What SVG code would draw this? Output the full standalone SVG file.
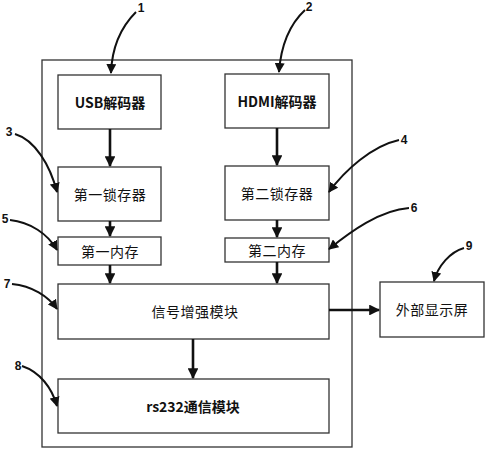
<svg xmlns="http://www.w3.org/2000/svg" width="487" height="450" viewBox="0 0 487 450">
<style>
.box{fill:#fff;stroke:#333;stroke-width:1.3}
.t{font-family:"Noto Sans CJK SC","Noto Sans",sans-serif;font-size:14px;fill:#111;text-anchor:middle;dominant-baseline:central;letter-spacing:0.5px}
.b{font-weight:bold;letter-spacing:0}
.n{font-family:"Liberation Sans",sans-serif;font-size:12px;font-weight:bold;fill:#111;text-anchor:middle;dominant-baseline:central}
.c{fill:none;stroke:#111;stroke-width:2.6}
.l{fill:none;stroke:#111;stroke-width:2}
</style>
<defs>
<marker id="ah" viewBox="0 0 10 10" refX="9" refY="5" markerWidth="4.2" markerHeight="4.2" orient="auto" markerUnits="strokeWidth">
<path d="M0,0 L10,5 L0,10 z" fill="#111"/>
</marker>
<marker id="al" viewBox="0 0 10 10" refX="9" refY="5" markerWidth="5" markerHeight="5" orient="auto" markerUnits="strokeWidth">
<path d="M0,0 L10,5 L0,10 z" fill="#111"/>
</marker>
</defs>
<rect width="487" height="450" fill="#fff"/>
<rect id="container" x="42" y="60" width="310" height="387" fill="none" stroke="#333" stroke-width="1.3"/>
<g id="usb"><rect class="box" x="58" y="75" width="103" height="54"/><text class="t b" x="110" y="102">USB解码器</text></g>
<g id="hdmi"><rect class="box" x="225" y="74" width="104" height="54"/><text class="t b" x="277" y="101">HDMI解码器</text></g>
<g id="latch1"><rect class="box" x="58" y="167" width="103" height="54"/><text class="t" x="110" y="194">第一锁存器</text></g>
<g id="latch2"><rect class="box" x="225" y="166" width="104" height="54"/><text class="t" x="277" y="193">第二锁存器</text></g>
<g id="mem1"><rect class="box" x="58" y="237" width="103" height="28"/><text class="t" x="110" y="251">第一内存</text></g>
<g id="mem2"><rect class="box" x="225" y="238" width="104" height="24"/><text class="t" x="277" y="250">第二内存</text></g>
<g id="enhance"><rect class="box" x="58" y="284" width="271" height="55"/><text class="t" x="195" y="311">信号增强模块</text></g>
<g id="rs232"><rect class="box" x="58" y="379" width="271" height="54"/><text class="t b" x="193" y="406">rs232通信模块</text></g>
<g id="display"><rect class="box" x="380" y="282" width="104" height="55"/><text class="t" x="432" y="309">外部显示屏</text></g>
<g id="connectors">
<line class="c" x1="110" y1="129" x2="110" y2="166" marker-end="url(#ah)"/>
<line class="c" x1="277" y1="128" x2="277" y2="165" marker-end="url(#ah)"/>
<line class="c" x1="110" y1="221" x2="110" y2="236" marker-end="url(#ah)"/>
<line class="c" x1="277" y1="220" x2="277" y2="237" marker-end="url(#ah)"/>
<line class="c" x1="110" y1="265" x2="110" y2="283" marker-end="url(#ah)"/>
<line class="c" x1="277" y1="262" x2="277" y2="283" marker-end="url(#ah)"/>
<line class="c" x1="193" y1="339" x2="193" y2="378" marker-end="url(#ah)"/>
<line class="c" x1="329" y1="310" x2="379" y2="310" marker-end="url(#ah)"/>
</g>
<g id="leaders">
<path class="l" d="M136,12 C122,26 112,45 111,73" marker-end="url(#al)"/>
<path class="l" d="M305,10 C290,24 281,45 279,72" marker-end="url(#al)"/>
<path class="l" d="M15,134 C35,140 50,165 57,192" marker-end="url(#al)"/>
<path class="l" d="M399,140 C372,146 345,170 329,192" marker-end="url(#al)"/>
<path class="l" d="M10,220 C30,222 48,234 57,250" marker-end="url(#al)"/>
<path class="l" d="M409,208 C380,210 350,232 329,249" marker-end="url(#al)"/>
<path class="l" d="M12,284 C32,286 48,296 57,309" marker-end="url(#al)"/>
<path class="l" d="M22,366 C40,372 52,388 57,406" marker-end="url(#al)"/>
<path class="l" d="M464,248 C450,252 438,266 434,281" marker-end="url(#al)"/>
<text class="n" x="141" y="8">1</text>
<text class="n" x="309" y="7">2</text>
<text class="n" x="9" y="132">3</text>
<text class="n" x="404" y="140">4</text>
<text class="n" x="5" y="219">5</text>
<text class="n" x="414" y="208">6</text>
<text class="n" x="7" y="284">7</text>
<text class="n" x="18" y="366">8</text>
<text class="n" x="469" y="246">9</text>
</g>
</svg>
